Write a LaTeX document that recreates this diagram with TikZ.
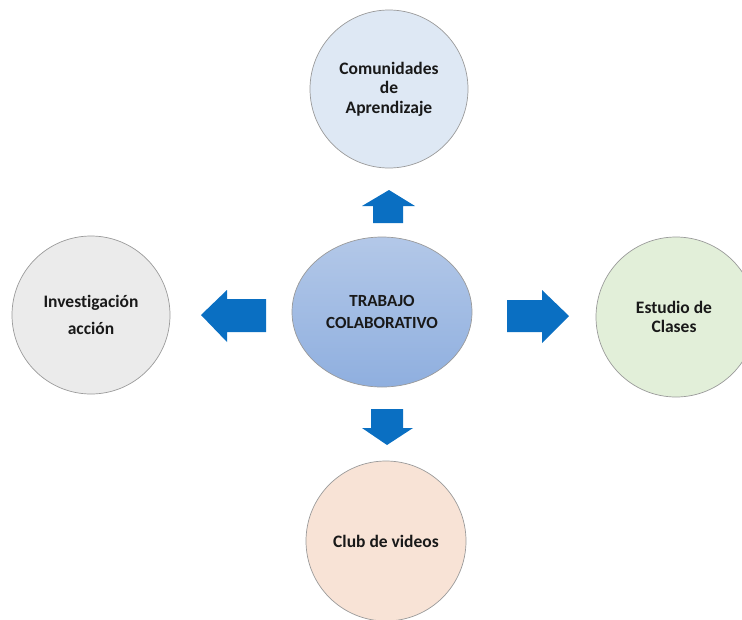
\documentclass[tikz,border=0pt]{standalone}
\usepackage{fontspec}
\setmainfont{Carlito}[Ligatures=NoCommon]
\usetikzlibrary{shapes.geometric}
\definecolor{bord}{HTML}{9A9A9A}
\definecolor{arrowblue}{HTML}{0A6FC2}
\definecolor{topfill}{HTML}{DEE8F4}
\definecolor{leftfill}{HTML}{EBEBEB}
\definecolor{rightfill}{HTML}{E2EFD9}
\definecolor{botfill}{HTML}{F8E3D6}
\definecolor{ctop}{HTML}{B3C8E8}
\definecolor{cbot}{HTML}{8FAFDF}
\tikzset{
  bubble/.style={circle, draw=bord, line width=0.7pt, minimum size=158pt, inner sep=0pt,
    align=center, font=\fontsize{17.5}{19.5}\selectfont\bfseries, text=black!90},
  blockarrow/.style={fill=arrowblue, draw=none}
}
\begin{document}
\begin{tikzpicture}[x=1pt,y=-1pt]
\useasboundingbox (0,0) rectangle (742,619);
\clip (0,0) rectangle (742,619);
% centre
\node[ellipse, draw=bord, line width=0.7pt, minimum width=180pt, minimum height=150pt,
  top color=ctop, bottom color=cbot, align=center,
  font=\fontsize{17}{22}\selectfont\bfseries, text=black!90] (c) at (382,312)
  {TRABAJO\\COLABORATIVO};
% satellites
\node[bubble, fill=topfill] (top) at (389,89) {Comunidades\\de\\Aprendizaje};
\node[bubble, fill=leftfill] (left) at (91,315) {Investigación\\[7pt]acción};
\node[bubble, fill=rightfill, minimum size=160pt] (right) at (676,317) {\hspace*{-4pt}Estudio de\\\hspace*{-4pt}Clases};
\node[bubble, fill=botfill, minimum size=160pt] (bot) at (386,541) {Club de videos};
% block arrows
\fill[blockarrow] (373,223) -- (373,206) -- (362,206) -- (389,190) -- (415,206) -- (403,206) -- (403,223) -- cycle;
\fill[blockarrow] (371,409) -- (403,409) -- (403,428) -- (413,428) -- (387,445) -- (362,428) -- (371,428) -- cycle;
\fill[blockarrow] (266,299) -- (227,299) -- (227,290) -- (201,315) -- (227,342) -- (227,332) -- (266,332) -- cycle;
\fill[blockarrow] (507,300) -- (542,300) -- (542,290) -- (569,316) -- (542,343) -- (542,332) -- (507,332) -- cycle;
\end{tikzpicture}
\end{document}
